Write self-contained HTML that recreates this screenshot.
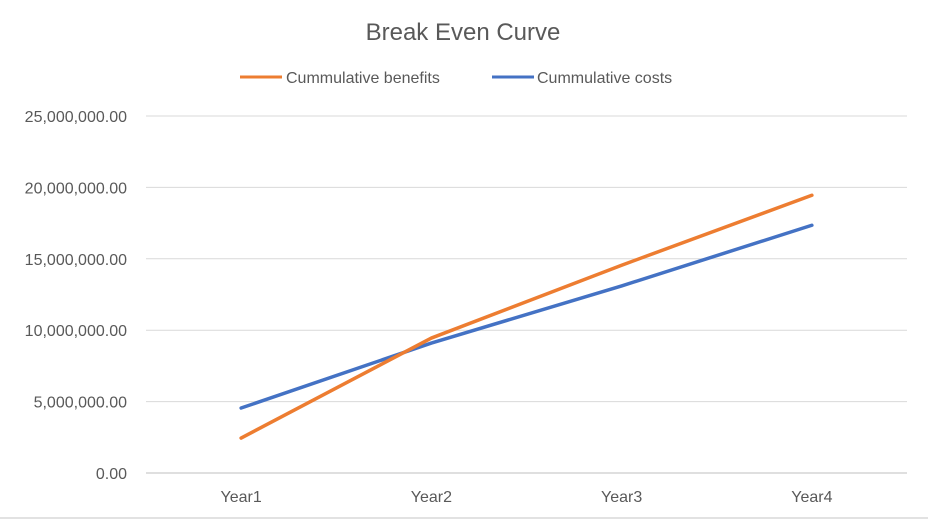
<!DOCTYPE html>
<html><head><meta charset="utf-8"><style>
body{margin:0;background:#fff;}
svg{display:block;font-family:"Liberation Sans",sans-serif;}
</style></head><body>
<svg id="chart" width="928" height="520">
<text x="463" y="40" text-anchor="middle" font-size="24" fill="#595959">Break Even Curve</text>
<g>
<line x1="240" y1="77" x2="282" y2="77" stroke="#ED7D31" stroke-width="3"/>
<text x="286" y="83" font-size="16" fill="#595959">Cummulative benefits</text>
<line x1="492" y1="77" x2="534" y2="77" stroke="#4472C4" stroke-width="3"/>
<text x="537" y="83" font-size="16" fill="#595959">Cummulative costs</text>
</g>
<g id="grid"></g><g id="ylabels"></g><g id="xlabels"></g><g id="series"></g>
<line x1="0" y1="518" x2="928" y2="518" stroke="#d9d9d9" stroke-width="1.5"/>
</svg>
<script>
const categories=["Year1","Year2","Year3","Year4"];
const benefits=[2450000,9450000,14550000,19450000];
const costs=[4550000,9100000,13100000,17350000];
const yTicks=[0,5000000,10000000,15000000,20000000,25000000];
const yTickLabels=["0.00","5,000,000.00","10,000,000.00","15,000,000.00","20,000,000.00","25,000,000.00"];
const NS="http://www.w3.org/2000/svg";
const x0=146,x1=907,y0=473,y1=116,yMax=25000000;
const bw=(x1-x0)/categories.length;
function xs(i){return x0+bw*(i+0.5);}
function ys(v){return y0-(v/yMax)*(y0-y1);}
function mk(t,a,p){const e=document.createElementNS(NS,t);for(const k in a)e.setAttribute(k,a[k]);p.appendChild(e);return e;}
const grid=document.getElementById('grid'),yl=document.getElementById('ylabels'),xl=document.getElementById('xlabels'),se=document.getElementById('series');
yTicks.forEach((v,i)=>{
 const l=mk('line',{x1:x0,x2:x1,y1:ys(v),y2:ys(v),stroke:i==0?'#bfbfbf':'#d9d9d9','stroke-width':1},grid);
 
 
 const t=mk('text',{x:127,y:ys(v)+6,'text-anchor':'end','font-size':16,fill:'#595959'},yl);
 t.textContent=yTickLabels[i];
 
 
});
categories.forEach((c,i)=>{
 const t=mk('text',{x:xs(i),y:502,'text-anchor':'middle','font-size':16,fill:'#595959'},xl);
 t.textContent=c;
 
 
});
function line(d,col,name){
 const p=mk('polyline',{points:d.map((v,i)=>xs(i)+','+ys(v)).join(' '),fill:'none',stroke:col,'stroke-width':3.5,'stroke-linejoin':'round','stroke-linecap':'round'},se);
 
 
}
line(costs,'#4472C4','costs-line');
line(benefits,'#ED7D31','benefits-line');
</script>
</body></html>
